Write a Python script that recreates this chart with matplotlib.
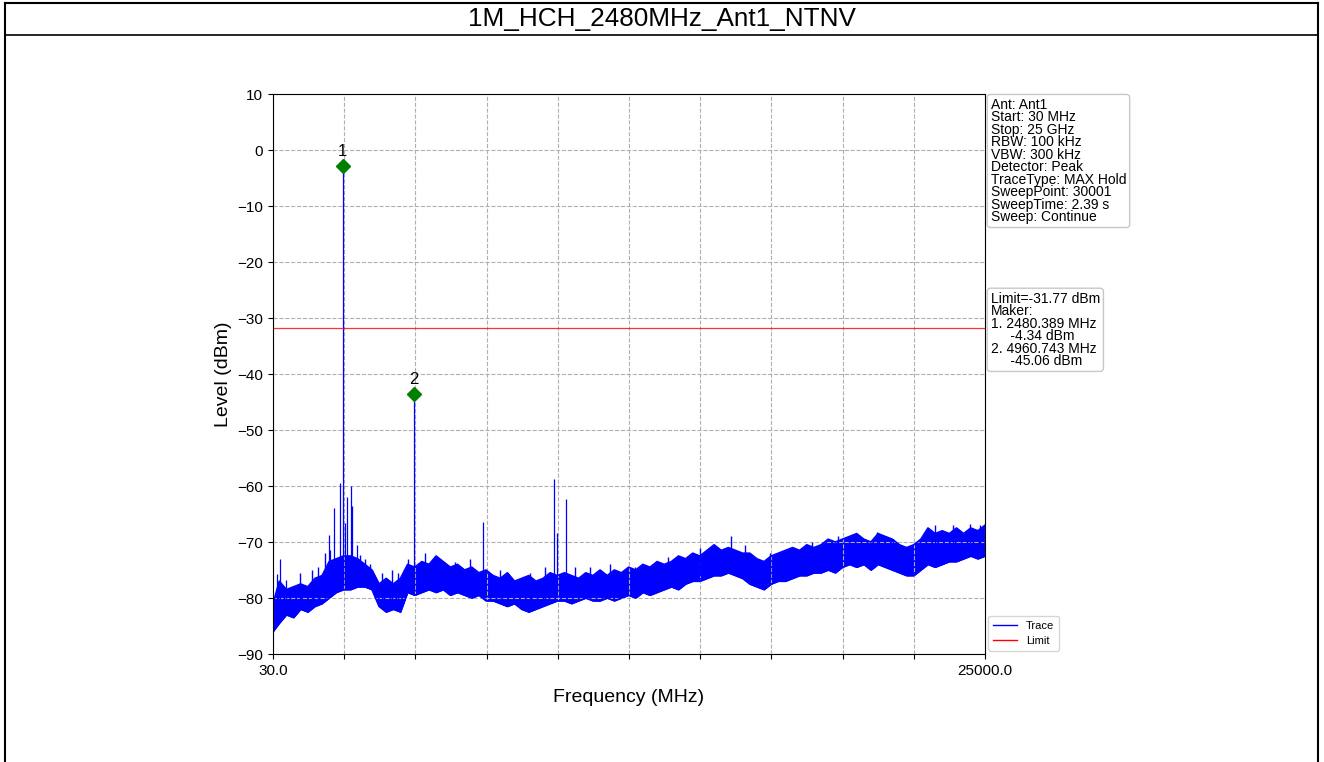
import matplotlib
matplotlib.use('Agg')
import matplotlib.pyplot as plt
from matplotlib.lines import Line2D
import numpy as np

plt.rcParams['font.family'] = ['Liberation Sans', 'DejaVu Sans']

title = "1M_HCH_2480MHz_Ant1_NTNV"
f_start = 30.0
f_stop = 25000.0
limit = -31.77

# noise floor (MHz, upper / lower edge in dBm)
noise_f = [30, 250, 500, 750, 1000, 1250, 1500, 1750, 2000, 2250,
           2500, 2750, 3000, 3250, 3500, 3750, 4000, 4250, 4500, 4750,
           5000, 5250, 5500, 5750, 6000, 6250, 6500, 6750, 7000, 7250,
           7500, 7750, 8000, 8250, 8500, 8750, 9000, 9250, 9500, 9750,
           10000, 10250, 10500, 10750, 11000, 11250, 11500, 11750, 12000, 12250,
           12500, 12750, 13000, 13250, 13500, 13750, 14000, 14250, 14500, 14750,
           15000, 15250, 15500, 15750, 16000, 16250, 16500, 16750, 17000, 17250,
           17500, 17750, 18000, 18250, 18500, 18750, 19000, 19250, 19500, 19750,
           20000, 20250, 20500, 20750, 21000, 21250, 21500, 21750, 22000, 22250,
           22500, 22750, 23000, 23250, 23500, 23750, 24000, 24250, 24500, 24750,
           25000]
noise_hi = [-81, -77, -78.5, -78, -77.5, -78, -76.5, -76, -73.5, -73,
            -72.5, -72.5, -73, -74, -75, -77.5, -76.5, -77.5, -76.5, -74,
            -74.5, -73.5, -74, -72.5, -73.5, -74.5, -74, -75, -74.5, -75.5,
            -75, -76, -76.5, -75.5, -77, -76.5, -76, -77, -76.5, -75.5,
            -76, -75.5, -76, -76.5, -75.5, -76, -75, -76, -75, -75.5,
            -74.5, -75, -74, -74.5, -73.5, -74, -73.5, -72.5, -73, -72,
            -72.5, -71.5, -70.5, -71.5, -71, -71.5, -72, -72, -73, -73.5,
            -72.5, -72, -71.5, -71, -71.5, -70.5, -71, -70.5, -69.5, -70,
            -69.5, -69, -68.5, -69.5, -70, -68.5, -69, -69.5, -70.5, -71,
            -70.5, -69.5, -67.5, -68.5, -68, -68.5, -67.5, -68.5, -67.5, -68,
            -67]
noise_lo = [-86, -84.5, -83, -83.5, -82, -82.5, -81.5, -81, -80, -79,
            -78.5, -78.5, -78, -78, -78.5, -81.5, -82.5, -82, -82.5, -79,
            -79.5, -79, -78.5, -79, -78.5, -79.5, -79, -79.5, -80, -79.5,
            -80.5, -80.5, -81, -81.5, -81, -82, -82.5, -82, -81.5, -81,
            -80.5, -80.5, -81, -80.5, -80, -80.5, -80.5, -80, -80.5, -80,
            -79.5, -80, -79, -79.5, -79, -78.5, -78, -78.5, -77.5, -77,
            -77, -76.5, -76, -76, -75.5, -76, -76.5, -77.5, -78, -78.5,
            -77.5, -77, -77, -76.5, -76, -76, -75.5, -75.5, -75, -75.5,
            -74.5, -74, -74.5, -74, -75, -74, -74.5, -75, -75.5, -76,
            -76, -75, -74, -74.5, -74, -73.5, -73.5, -73, -72.5, -73,
            -72.5]

# spurs sticking out of the noise floor
spur_f = [170, 275, 475, 1994, 2030, 2169, 2380, 2480.389, 2555, 2625, 2766, 2800, 2966,
          4960.743, 7405, 9895, 10000, 10316]
spur_top = [-75.7, -73, -76.8, -68.8, -71.4, -64, -59.4, -2.8, -66.6, -62, -60, -63.5, -70.5,
            -43.6, -66.5, -58.7, -68.4, -62.4]

# small peaks on top of the floor
grass_f = [977, 1398, 1608, 1854, 3081, 3257, 3432, 3853, 4203, 4414, 4765, 5361,
           5887, 6413, 6939, 7991, 9043, 9569, 10621, 11147, 11849, 12726, 13883,
           15005, 16093, 16583, 17460, 18933, 19845, 21212, 21773, 23246, 23877,
           24473, 24824]
grass_top = [-75.5, -75, -74.5, -72, -72.3, -73, -74, -75.5, -75, -75.5, -73, -72,
             -73, -73.5, -73, -75, -75.5, -74.5, -74.5, -74.5, -74, -74.5, -72.7,
             -71, -69, -70.5, -72, -70, -69, -68.2, -69.5, -67, -67,
             -66.8, -67]

# markers
mk_f = [2480.389, 4960.743]
mk_lvl = [-2.8, -43.6]
mk_name = ['1', '2']

info = ("Ant: Ant1\nStart: 30 MHz\nStop: 25 GHz\nRBW: 100 kHz\nVBW: 300 kHz\n"
        "Detector: Peak\nTraceType: MAX Hold\nSweepPoint: 30001\nSweepTime: 2.39 s\n"
        "Sweep: Continue")
mk_info = ("Limit=-31.77 dBm\nMaker:\n1. 2480.389 MHz\n     -4.34 dBm\n"
           "2. 4960.743 MHz\n     -45.06 dBm")

fig = plt.figure(figsize=(13.24, 7.62), dpi=100)
ax = fig.add_axes([273/1324, 108/762, 712/1324, 560/762])

ax.fill_between(noise_f, noise_lo, noise_hi, color='blue', lw=0.6)
ax.plot(noise_f, noise_hi, color='blue', lw=1.2)
ax.plot(noise_f, noise_lo, color='blue', lw=1.2)
spur_base = np.interp(spur_f, noise_f, noise_lo) + 1
grass_base = np.interp(grass_f, noise_f, noise_lo) + 1
ax.vlines(spur_f, spur_base, spur_top, color='blue', lw=0.9)
ax.vlines(grass_f, grass_base, grass_top, color='blue', lw=1.0)
ax.axhline(limit, color='red', lw=0.9, alpha=0.8)

ax.plot(mk_f, mk_lvl, 'D', color='green', ms=7, zorder=5)
for f, l, n in zip(mk_f, mk_lvl, mk_name):
    ax.text(f, l + 1.2, n, ha='center', va='bottom', fontsize=12)

ax.set_xlim(f_start, f_stop)
ax.set_ylim(-90, 10)
xt = np.linspace(f_start, f_stop, 11)
ax.set_xticks(xt)
ax.set_xticklabels(['30.0'] + [''] * 9 + ['25000.0'], fontsize=11)
ax.set_yticks(range(-90, 11, 10))
ax.tick_params(axis='y', labelsize=11)
ax.grid(True, ls='--', color='#b0b0b0', lw=0.8)
ax.set_xlabel('Frequency (MHz)', fontsize=14, labelpad=8)
ax.set_ylabel('Level (dBm)', fontsize=14)

box = dict(boxstyle='round,pad=0.25', fc='white', ec='#c8c8c8')
ax.text(1.008, 0.993, info, transform=ax.transAxes, va='top', ha='left',
        fontsize=10, linespacing=0.86, bbox=box)
ax.text(1.008, 0.647, mk_info, transform=ax.transAxes, va='top', ha='left',
        fontsize=10, linespacing=0.86, bbox=box)

handles = [Line2D([], [], color='blue', lw=1), Line2D([], [], color='red', lw=1)]
ax.legend(handles, ['Trace', 'Limit'], loc='lower left', bbox_to_anchor=(1.0, 0.0),
          fontsize=8, borderaxespad=0.3, handlelength=2.2)

# title bar and frame
fig.text(0.5, 1 - 19/762, title, ha='center', va='center', fontsize=18.8)
fig.add_artist(Line2D([5/1324, 1318/1324], [1 - 35/762, 1 - 35/762], color='black', lw=1.2))
fig.add_artist(Line2D([5/1324, 1318/1324], [1 - 3/762, 1 - 3/762], color='black', lw=1.5))
fig.add_artist(Line2D([5/1324, 5/1324], [0, 1 - 3/762], color='black', lw=1.5))
fig.add_artist(Line2D([1318/1324, 1318/1324], [0, 1 - 3/762], color='black', lw=1.5))

fig.savefig('out.png', dpi=100)
